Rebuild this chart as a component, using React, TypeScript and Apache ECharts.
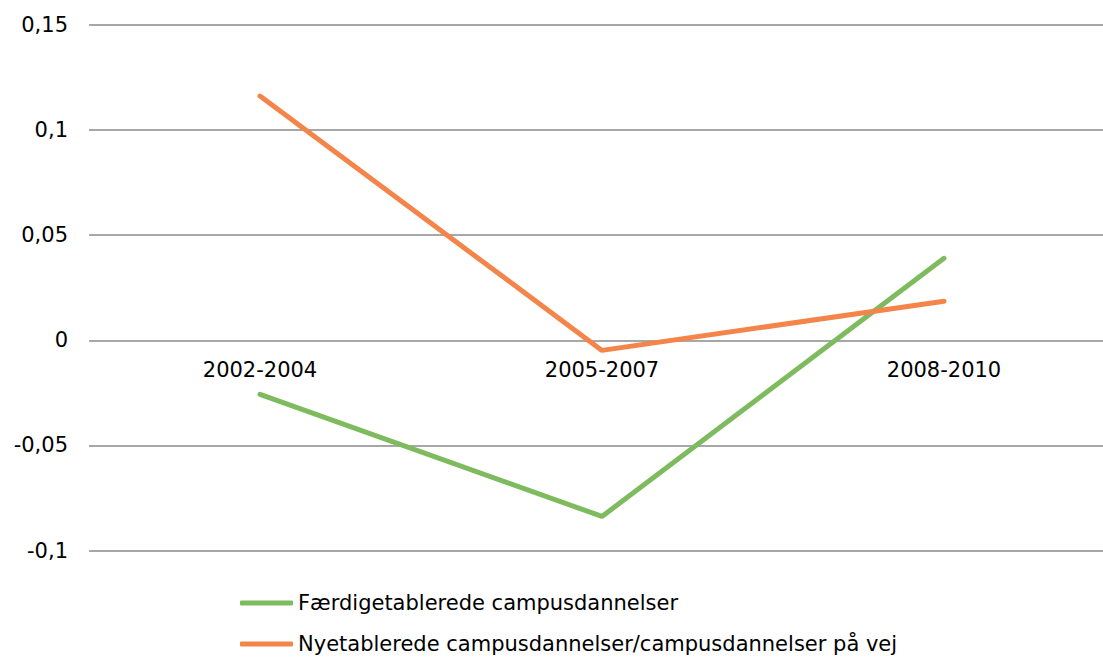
import React, { useEffect, useRef } from "react";
import * as echarts from "echarts";

const categories = ["2002-2004", "2005-2007", "2008-2010"];
const seriesNames = [
  "Færdigetablerede campusdannelser",
  "Nyetablerede campusdannelser/campusdannelser på vej",
];
const faerdigValues = [-0.0257, -0.0838, 0.039];
const nyValues = [0.1162, -0.0048, 0.0186];
const yMin = -0.1;
const yMax = 0.15;
const yInterval = 0.05;

export default function App() {
  const ref = useRef<HTMLDivElement>(null);
  useEffect(() => {
    if (!ref.current) return;
    const chart = echarts.init(ref.current, null, { renderer: "svg" });
    const font = "'DejaVu Sans', Verdana, sans-serif";
    const legendBase = {
      orient: "vertical",
      left: 240,
      padding: 0,
      icon: "roundRect",
      itemWidth: 53,
      itemHeight: 5,
      textStyle: { color: "#000", fontSize: 21, fontFamily: font, lineHeight: 24 },
    };
    chart.setOption({
      animation: false,
      backgroundColor: "#ffffff",
      grid: { left: 89, right: 0, top: 25, bottom: 106.5, containLabel: false },
      xAxis: {
        type: "category",
        data: categories,
        boundaryGap: true,
        position: "bottom",
        offset: -210.5,
        axisLine: { show: false, onZero: false },
        axisTick: { show: false },
        axisLabel: { color: "#000", fontSize: 21, fontFamily: font, margin: 19 },
      },
      yAxis: {
        type: "value",
        min: yMin,
        max: yMax,
        interval: yInterval,
        axisLine: { show: false },
        axisTick: { show: false },
        axisLabel: {
          color: "#000",
          fontSize: 21,
          fontFamily: font,
          margin: 21,
          formatter: (v: number) => {
            const r = Math.round(v * 1000) / 1000;
            return String(r).replace(".", ",");
          },
        },
        splitLine: { lineStyle: { color: "#8a8a8a", width: 1.5 } },
      },
      legend: [
        { ...legendBase, top: 591, data: [seriesNames[0]] },
        { ...legendBase, top: 632, data: [seriesNames[1]] },
      ],
      series: [
        {
          name: seriesNames[0],
          type: "line",
          data: faerdigValues,
          symbol: "none",
          lineStyle: { color: "#7EBB5F", width: 5, cap: "round" },
          itemStyle: { color: "#7EBB5F" },
        },
        {
          name: seriesNames[1],
          type: "line",
          data: nyValues,
          symbol: "none",
          lineStyle: { color: "#F4854A", width: 5, cap: "round" },
          itemStyle: { color: "#F4854A" },
        },
      ],
    });
    return () => chart.dispose();
  }, []);
  return (
    <div
      style={{
        position: "absolute",
        left: 0,
        top: 0,
        width: 1103,
        height: 657,
        overflow: "hidden",
      }}
    >
      <div ref={ref} style={{ width: 1115, height: 657 }} />
    </div>
  );
}
